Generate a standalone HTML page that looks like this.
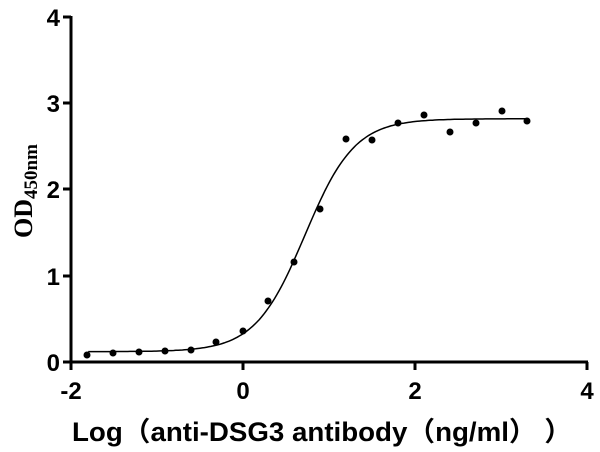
<!DOCTYPE html>
<html><head><style>body{margin:0;background:#fff}svg{display:block}</style></head><body>
<svg width="600" height="452" xmlns="http://www.w3.org/2000/svg">
<g stroke="#000" stroke-width="3" fill="none">
<line x1="71" y1="16" x2="71" y2="363"/>
<line x1="69.5" y1="362" x2="588" y2="362"/>
<line x1="63" y1="17" x2="71" y2="17"/>
<line x1="63" y1="103" x2="71" y2="103"/>
<line x1="63" y1="189" x2="71" y2="189"/>
<line x1="63" y1="276" x2="71" y2="276"/>
<line x1="63" y1="362" x2="71" y2="362"/>
<line x1="71" y1="362" x2="71" y2="370"/>
<line x1="243" y1="362" x2="243" y2="370"/>
<line x1="415" y1="362" x2="415" y2="370"/>
<line x1="587" y1="362" x2="587" y2="370"/>
</g>
<g font-family="Liberation Sans, sans-serif" font-weight="bold" font-size="24" text-anchor="end">
<text x="60" y="26">4</text><text x="60" y="112">3</text><text x="60" y="198">2</text><text x="60" y="285">1</text><text x="60" y="371">0</text>
</g>
<g font-family="Liberation Sans, sans-serif" font-weight="bold" font-size="24" text-anchor="middle">
<text x="71" y="399">-2</text><text x="243" y="399">0</text><text x="415" y="399">2</text><text x="587" y="399">4</text>
</g>
<text x="72" y="441" textLength="500" lengthAdjust="spacingAndGlyphs" font-family="Liberation Sans, 'Noto Sans CJK SC', sans-serif" font-weight="bold" font-size="27">Log（anti-DSG3 antibody（ng/ml） ）</text>
<text transform="translate(32,238) rotate(-90)" font-family="Liberation Serif, serif" font-weight="bold" font-size="26">OD<tspan font-size="19" dy="5">450nm</tspan></text>
<path id="c" fill="none" stroke="#000" stroke-width="1.5" d=""/>
<g fill="#000" id="pts"></g>
<script>
var d="";for(var i=0;i<=200;i++){var x=-1.8+5.1*i/200;var y=0.12+2.7/(1+Math.pow(10,(0.72-x)*1.5));var px=243+86*x,py=362-86.25*y;d+=(i?"L":"M")+px.toFixed(1)+","+py.toFixed(1);}
document.getElementById("c").setAttribute("d",d);
var p=[[87,355],[113,353],[139,352],[165,351],[191,350],[216,342],[243,331],[268,301],[294,262],[320,209],[346,139],[372,140],[398,123],[424,115],[450,132],[476,123],[502,111],[527,121]];
var g=document.getElementById("pts");p.forEach(function(q){var c=document.createElementNS("http://www.w3.org/2000/svg","circle");c.setAttribute("cx",q[0]);c.setAttribute("cy",q[1]);c.setAttribute("r",3.5);g.appendChild(c);});
</script>
</svg>
</body></html>
